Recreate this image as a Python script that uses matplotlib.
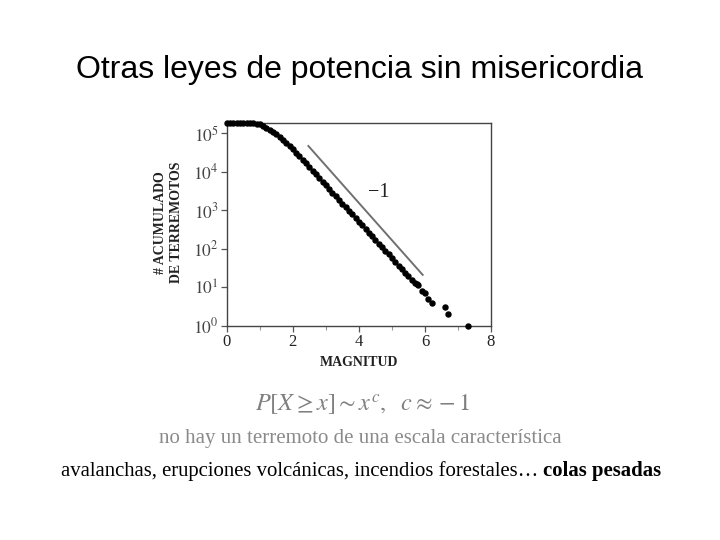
import matplotlib
matplotlib.use("Agg")
import matplotlib.pyplot as plt
from matplotlib.ticker import FixedLocator, NullFormatter

# ---- data ----
magnitud = [0.0, 0.1, 0.2, 0.3, 0.4, 0.5, 0.6, 0.7, 0.8, 0.9,
            1.0, 1.1, 1.2, 1.3, 1.4, 1.5, 1.6, 1.7, 1.8, 1.9,
            2.0, 2.1, 2.2, 2.3, 2.4, 2.5, 2.6, 2.7, 2.8, 2.9,
            3.0, 3.1, 3.2, 3.3, 3.4, 3.5, 3.6, 3.7, 3.8, 3.9,
            4.0, 4.1, 4.2, 4.3, 4.4, 4.5, 4.6, 4.7, 4.8, 4.9,
            5.0, 5.1, 5.2, 5.3, 5.4, 5.5, 5.6, 5.7, 5.75, 5.8,
            5.9, 6.0, 6.1, 6.2, 6.6, 6.7, 7.3]
log_acumulado = [5.26, 5.26, 5.26, 5.26, 5.26, 5.26, 5.26, 5.26, 5.26, 5.25,
                 5.23, 5.20, 5.15, 5.09, 5.03, 4.97, 4.90, 4.82, 4.75, 4.67,
                 4.58, 4.50, 4.41, 4.31, 4.22, 4.12, 4.03, 3.93, 3.84, 3.74,
                 3.65, 3.55, 3.46, 3.36, 3.27, 3.17, 3.08, 2.98, 2.89, 2.79,
                 2.70, 2.61, 2.51, 2.42, 2.32, 2.23, 2.13, 2.04, 1.94, 1.85,
                 1.75, 1.66, 1.56, 1.47, 1.38, 1.28, 1.19, 1.10, 1.08, 1.06,
                 0.90, 0.85, 0.70, 0.60, 0.48, 0.30, 0.0]
acumulado = [10 ** v for v in log_acumulado]

ref_x = [2.47, 5.93]
ref_y = [10 ** 4.67, 10 ** 1.32]

x_ticks = [0, 2, 4, 6, 8]
x_minor = [1, 3, 5, 7]
y_exps = [0, 1, 2, 3, 4, 5]

title = "Otras leyes de potencia sin misericordia"
line_formula = r"$P[X \geq x] \sim x^{c},\ \ c \approx -1$"
line2 = "no hay un terremoto de una escala característica"
line3_a = "avalanchas, erupciones volcánicas, incendios forestales… "
line3_b = "colas pesadas"

plt.rcParams["mathtext.fontset"] = "stix"
serif = "Liberation Serif"

fig = plt.figure(figsize=(7.2, 5.4), dpi=100)
ax = fig.add_axes([0.315, 0.397, 0.367, 0.375])

ax.set_yscale("log")
ax.plot(magnitud, acumulado, "o", color="black", ms=3.6, clip_on=False, zorder=3)
ax.plot(ref_x, ref_y, "-", color="#707070", lw=1.4)
ax.text(4.6, 10 ** 3.45, "−1", fontsize=14.5, family=serif, color="#222222",
        ha="center", va="center")

ax.set_xlim(0, 8)
ax.set_ylim(1, 10 ** 5.265)
ax.xaxis.set_major_locator(FixedLocator(x_ticks))
ax.xaxis.set_minor_locator(FixedLocator(x_minor))
ax.xaxis.set_minor_formatter(NullFormatter())
ax.set_xticklabels([str(t) for t in x_ticks], family=serif, fontsize=12, color="#222222")
ax.yaxis.set_major_locator(FixedLocator([10 ** e for e in y_exps]))
ax.yaxis.set_minor_locator(FixedLocator([]))
ax.set_yticklabels([r"$10^{%d}$" % e for e in y_exps], fontsize=12.5, color="#444444")
ax.tick_params(axis="both", which="major", length=4, width=0.9, color="#555555", pad=2)
ax.tick_params(axis="x", which="minor", length=3, width=0.8, color="#999999")
for s in ax.spines.values():
    s.set_color("#444444")
    s.set_linewidth(1.0)

fig.text(0.2335, 0.588, "# ACUMULADO\nDE TERREMOTOS", rotation=90, ha="center", va="center",
         family=serif, fontweight="bold", fontsize=10, color="#222222", linespacing=1.3)
fig.text(0.4985, 1 - 362 / 540, "MAGNITUD", ha="center", va="center",
         family=serif, fontweight="bold", fontsize=10, color="#222222")

fig.text(0.5, 1 - 70 / 540, title, ha="center", va="center",
         family="Liberation Sans", fontsize=23, color="black")

fig.text(362.5 / 720, 1 - 405 / 540, line_formula, ha="center", va="center",
         fontsize=17.5, color="#7f7f7f")
fig.text(360 / 720, 1 - 438 / 540, line2, ha="center", va="center",
         family=serif, fontsize=15, color="#8a8a8a")

# third line: normal part + bold part, centred together
fig.canvas.draw()
renderer = fig.canvas.get_renderer()
ta = fig.text(0, 1 - 471 / 540, line3_a, ha="left", va="center",
              family=serif, fontsize=14.95, color="black")
tb = fig.text(0, 1 - 471 / 540, line3_b, ha="left", va="center",
              family=serif, fontsize=14.95, fontweight="bold", color="black")
wa = ta.get_window_extent(renderer).width
wb = tb.get_window_extent(renderer).width
total = wa + wb
x0 = 361 - total / 2
ta.set_x(x0 / 720)
tb.set_x((x0 + wa) / 720)

fig.savefig("out.png", dpi=100)
